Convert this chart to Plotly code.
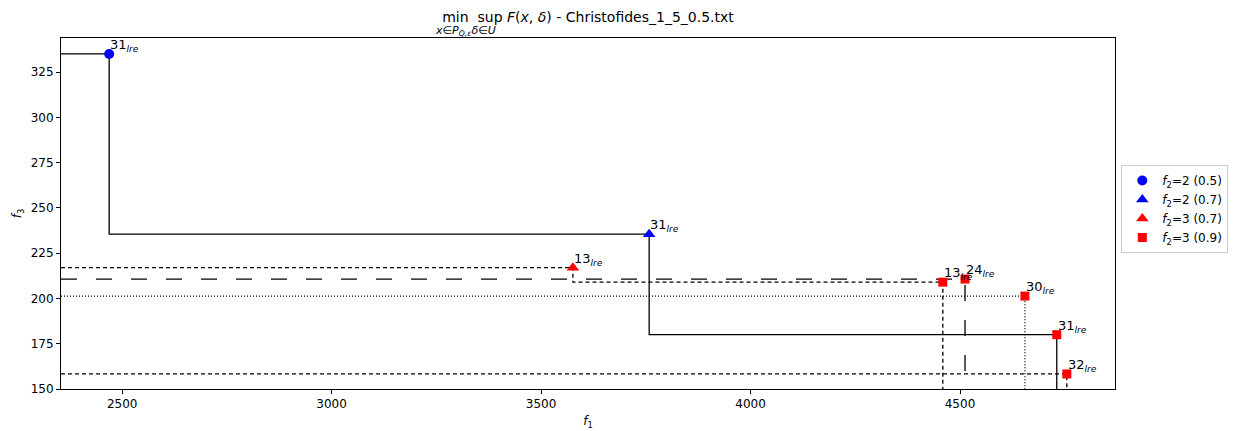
import plotly.graph_objects as go

# ---- data ----
circ_x = [2469]; circ_y = [335]; circ_lbl = ["31"]
btri_x = [3758]; btri_y = [235.5]; btri_lbl = ["31"]
rtri_x = [3576]; rtri_y = [217]; rtri_lbl = ["13"]
rsq_x = [4459, 4512, 4655, 4731, 4755]
rsq_y = [209, 210.7, 201.3, 180, 158.3]
rsq_lbl = ["13", "24", "30", "31", "32"]

x_range = [2354, 4870]
y_range = [150, 343.8]
x_ticks = [2500, 3000, 3500, 4000, 4500]
y_ticks = [150, 175, 200, 225, 250, 275, 300, 325]

line_styles = {"31": "solid", "13": "4px,3px", "24": "16px,19px", "30": "1px,2px", "32": "4px,3px"}

FONT = "DejaVu Sans"
fig = go.Figure()

allpts = []
for xs, ys, ls in [(circ_x, circ_y, circ_lbl), (btri_x, btri_y, btri_lbl),
                   (rtri_x, rtri_y, rtri_lbl), (rsq_x, rsq_y, rsq_lbl)]:
    allpts += list(zip(xs, ys, ls))

# staircase (attainment) lines, one per label
for lbl, dash in line_styles.items():
    pts = sorted([(x, y) for x, y, l in allpts if l == lbl])
    px = [x_range[0], pts[0][0]]
    py = [pts[0][1], pts[0][1]]
    for i in range(1, len(pts)):
        px += [pts[i - 1][0], pts[i][0]]
        py += [pts[i][1], pts[i][1]]
    px.append(pts[-1][0]); py.append(y_range[0] - 10)
    fig.add_trace(go.Scatter(x=px, y=py, mode="lines", showlegend=False,
                             line=dict(color="black", width=1.3, dash=dash),
                             hoverinfo="skip"))

def add_markers(xs, ys, name, symbol, color, size):
    fig.add_trace(go.Scatter(x=xs, y=ys, mode="markers", name=name,
                             marker=dict(symbol=symbol, color=color, size=size,
                                         line=dict(width=0))))

add_markers(circ_x, circ_y, "<i>f</i><sub>2</sub>=2 (0.5)", "circle", "#0000ff", 10)
add_markers(btri_x, btri_y, "<i>f</i><sub>2</sub>=2 (0.7)", "triangle-up", "#0000ff", 11)
add_markers(rtri_x, rtri_y, "<i>f</i><sub>2</sub>=3 (0.7)", "triangle-up", "#ff0000", 11)
add_markers(rsq_x, rsq_y, "<i>f</i><sub>2</sub>=3 (0.9)", "square", "#ff0000", 9)

for x, y, l in allpts:
    fig.add_annotation(x=x, y=y, xref="x", yref="y", text=f"{l}<sub><i>lre</i></sub>",
                       showarrow=False, xanchor="left", yanchor="bottom",
                       xshift=-1, yshift=-2, font=dict(family=FONT, size=13, color="black"))

OFF = 8  # page body offset
W, H = 1239, 431
L, T = 61 - OFF, 38 - OFF
R = W - (1115 - OFF)
B = H - (389 - OFF)
pw, ph = W - L - R, H - T - B

fig.add_annotation(xref="paper", yref="paper", x=(465 - OFF - L) / pw,
                   y=(H - B - (31 - OFF)) / ph,
                   text="<i>x</i>∈<i>P</i><sub><i>Q,ε</i></sub><i>δ</i>∈<i>U</i>",
                   showarrow=False, xanchor="center", yanchor="middle",
                   font=dict(family=FONT, size=11, color="black"))

fig.update_layout(
    width=W, height=H,
    margin=dict(l=L, r=R, t=T, b=B),
    paper_bgcolor="white", plot_bgcolor="white",
    font=dict(family=FONT, size=12, color="black"),
    title=dict(text="min&nbsp;&nbsp;sup <i>F</i>(<i>x</i>, <i>δ</i>) - Christofides_1_5_0.5.txt",
               x=0.5, xref="paper", xanchor="center",
               y=1 - (17 - OFF) / H, yref="container", yanchor="middle",
               font=dict(family=FONT, size=14, color="black")),
    legend=dict(x=1.006, xanchor="left", y=(H - B - (209 - OFF)) / ph, yanchor="middle",
                bordercolor="#cccccc", borderwidth=1, bgcolor="white",
                font=dict(family=FONT, size=12, color="black")),
    xaxis=dict(range=x_range, tickvals=x_ticks, showgrid=False, zeroline=False,
               showline=True, linecolor="black", linewidth=1, mirror=True,
               ticks="outside", ticklen=4, tickcolor="black", automargin=False,
               title=dict(text="<i>f</i><sub>1</sub>", standoff=6, font=dict(size=12))),
    yaxis=dict(range=y_range, tickvals=y_ticks, showgrid=False, zeroline=False,
               showline=True, linecolor="black", linewidth=1, mirror=True,
               ticks="outside", ticklen=4, tickcolor="black", automargin=False,
               title=dict(text="<i>f</i><sub>3</sub>", standoff=6, font=dict(size=12))),
)

fig.write_html("out.html")
